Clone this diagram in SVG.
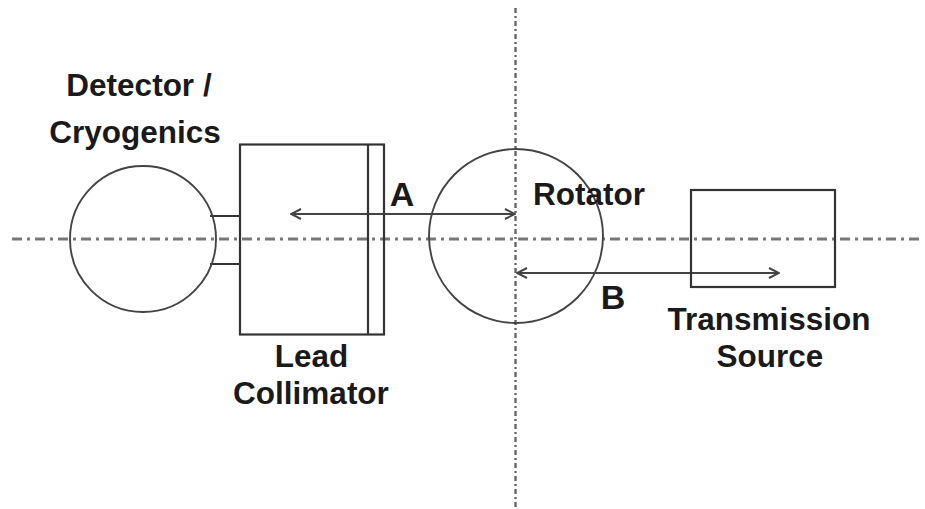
<svg xmlns="http://www.w3.org/2000/svg" width="925" height="509" viewBox="0 0 925 509">
<style>
.s{fill:none;stroke:#333;stroke-width:2.2}
.c{fill:none;stroke:#444;stroke-width:1.9}
.a{fill:none;stroke:#444;stroke-width:2.2;marker-start:url(#h);marker-end:url(#h)}
.d{fill:none;stroke:#777;stroke-width:2.8;stroke-dasharray:10 5 3 5}
.v{fill:none;stroke:#666;stroke-width:2.4;stroke-dasharray:5 3 2 3}
text{font-family:"Liberation Sans",Arial,sans-serif;font-weight:bold;fill:#1a1a1a;font-size:31.500px;text-anchor:middle}
.l{font-size:34px}
</style>
<defs>
<marker id="h" viewBox="0 0 12 12" refX="11" refY="6" markerUnits="userSpaceOnUse" markerWidth="12" markerHeight="12" orient="auto-start-reverse">
<path d="M1 1L11 6L1 11" fill="none" stroke="#444" stroke-width="2"/>
</marker>
</defs>
<rect width="925" height="509" fill="#fff"/>
<g id="connectors">
<path class="d" d="M12 239H924"/>
<path class="v" d="M515.500 8V509"/>
<path class="a" d="M291 214H515"/>
<path class="a" d="M517 273H779"/>
<path class="s" d="M210 216H240M210 264H240"/>
</g>
<g id="detector"><circle class="c" cx="143" cy="239" r="73"/><text x="139" y="96">Detector /</text><text x="135" y="143">Cryogenics</text></g>
<g id="collimator"><rect class="s" x="240" y="144.500" width="144" height="190"/><path class="s" d="M368 144.500V334.500"/><text x="311.500" y="367">Lead</text><text x="311" y="404">Collimator</text></g>
<g id="rotator"><circle class="c" cx="516" cy="236" r="87"/><text x="589" y="205">Rotator</text></g>
<g id="source"><rect class="s" x="691" y="190" width="144" height="97"/><text x="769" y="330">Transmission</text><text x="770" y="367">Source</text></g>
<g id="labelA"><text class="l" x="402" y="206">A</text></g>
<g id="labelB"><text class="l" x="613" y="309">B</text></g>
</svg>
